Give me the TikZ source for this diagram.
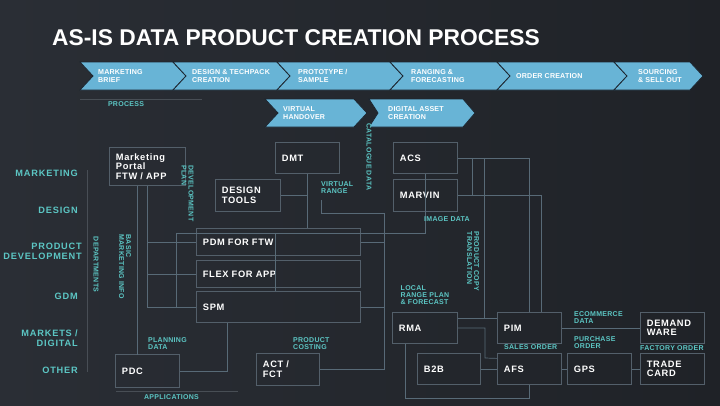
\documentclass[tikz,border=0pt]{standalone}
\usepackage{fontspec}
\setmainfont{Liberation Sans}
\usetikzlibrary{positioning,calc}
\definecolor{bgL}{HTML}{2A2E35}
\definecolor{bgM}{HTML}{31353C}
\definecolor{bgR}{HTML}{1F2227}
\definecolor{chevB}{HTML}{68B4D6}
\definecolor{chevD}{HTML}{1D2630}
\definecolor{mteal}{HTML}{5CC6C4}
\definecolor{boxL}{HTML}{535F6A}
\definecolor{wireL}{HTML}{586A77}
\definecolor{ruleL}{HTML}{484E55}
\tikzset{
  every node/.style={inner sep=0pt},
  sys/.style={draw=boxL, line width=0.8pt, anchor=north west, align=left, text=white,
              inner xsep=6.5pt, font={\fontsize{9.3}{9.6}\selectfont\bfseries\addfontfeatures{LetterSpace=7}}},
  sz/.code 2 args={\pgfmathsetlengthmacro\boxtw{#1-13}%
                   \tikzset{minimum width=#1 pt, minimum height=#2 pt, text width=\boxtw}},
  chev/.style={fill=chevB, draw=chevD, line width=0.8pt},
  ctxt/.style={text=white, anchor=west, align=left,
               font={\fontsize{7.1}{8}\selectfont\bfseries\addfontfeatures{LetterSpace=2.5}}},
  dept/.style={text=mteal, anchor=east, align=right,
               font={\fontsize{9.2}{9.5}\selectfont\bfseries\addfontfeatures{LetterSpace=9}}},
  tag/.style ={text=mteal, align=left,
               font={\fontsize{7}{7}\selectfont\bfseries\addfontfeatures{LetterSpace=4}}},
  wire/.style={draw=wireL, line width=0.7pt},
  rule/.style={draw=ruleL, line width=1pt},
}

\begin{document}
\begin{tikzpicture}[x=1pt, y=-1pt]

% background
\shade[left color=bgL, middle color=bgM, right color=bgR] (0,0) rectangle (720,405);

\node[anchor=base west, text=white, font={\fontsize{22.8}{26}\selectfont\bfseries}] (title)
  at (52,45) {AS-IS DATA PRODUCT CREATION PROCESS};

% ---------------- process chevrons ----------------
\foreach \a/\b in {93/186,186/290,290/403,403/510,510/627,627/703}{
  \filldraw[chev] (\a-13,62) -- (\b-13,62) -- (\b,76) -- (\b-13,90) -- (\a-13,90) -- (\a,76) -- cycle;
}
\filldraw[chev] (265,99) -- (354,99) -- (367,113) -- (354,127) -- (265,127) -- (278,113) -- cycle;
\filldraw[chev] (369,99) -- (463,99) -- (475,113) -- (463,127) -- (369,127) -- (378,113) -- cycle;

\node[ctxt] (brief)  at (98,76)  {MARKETING\\BRIEF};
\node[ctxt] (design) at (192,76) {DESIGN \& TECHPACK\\CREATION};
\node[ctxt] (proto)  at (298,76) {PROTOTYPE /\\SAMPLE};
\node[ctxt] (range)  at (411,76) {RANGING \&\\FORECASTING};
\node[ctxt] (order)  at (516,76) {ORDER CREATION};
\node[ctxt] (sell)   at (638,76) {SOURCING\\\& SELL OUT};
\node[ctxt] (handov) at (283,113) {VIRTUAL\\HANDOVER};
\node[ctxt] (asset)  at (388,113) {DIGITAL ASSET\\CREATION};

\coordinate (procL) at (80,99);
\coordinate (procR) at (202,99);
\draw[rule] (procL) -- (procR);
\node[tag] (process) at (126,104.5) {PROCESS};

% ---------------- departments ----------------
\node[dept] (mkt)  at (78,173) {MARKETING};
\node[dept] (dsg)  at (78,210) {DESIGN};
\node[dept] (pdev) at (82,251.5) {PRODUCT\\DEVELOPMENT};
\node[dept] (gdm)  at (78,296) {GDM};
\node[dept] (mdig) at (78,338) {MARKETS /\\DIGITAL};
\node[dept] (oth)  at (78,370) {OTHER};
\coordinate (dtop) at (87,170);
\coordinate (dbot) at (87,372);
\draw[rule] (dtop) -- (dbot);
\node[tag, rotate=-90] (deps) at (96,264.5) {DEPARTMENTS};

% ---------------- systems ----------------
\node[sys, sz={76}{38}]  (portal) at (109,147) {Marketing\\Portal\\FTW / APP};
\node[sys, sz={64}{31}]  (dmt)    at (275,142) {DMT};
\node[sys, sz={65}{32}]  (dtools) at (215,179) {DESIGN\\TOOLS};
\node[sys, sz={64}{31}]  (acs)    at (393,142) {ACS};
\node[sys, sz={64}{32}]  (marvin) at (393,179) {MARVIN};
\node[sys, sz={164}{27}] (pdm)    at (196,228) {PDM FOR FTW};
\node[sys, sz={164}{27}] (flex)   at (196,260) {FLEX FOR APP};
\node[sys, sz={164}{31}] (spm)    at (196,291) {SPM};
\node[sys, sz={65}{31}]  (rma)    at (392,312) {RMA};
\node[sys, sz={64}{31}]  (pim)    at (497,312) {PIM};
\node[sys, sz={63}{31}]  (b2b)    at (417,353) {B2B};
\node[sys, sz={64}{31}]  (afs)    at (497,353) {AFS};
\node[sys, sz={64}{31}]  (gps)    at (567,353) {GPS};
\node[sys, sz={64}{31}]  (dware)  at (640,312) {DEMAND\\WARE};
\node[sys, sz={64}{31}]  (tcard)  at (640,353) {TRADE\\CARD};
\node[sys, sz={64}{33}]  (pdc)    at (115,354) {PDC};
\node[sys, sz={63}{32}]  (actfct) at (256,353) {ACT /\\FCT};

% ---------------- data flows ----------------
\draw[wire] (portal.south) |- (pdm.west);
\draw[wire] (portal.south) |- (flex.west);
\draw[wire] (portal.south) |- (spm.west);
\draw[wire] ([xshift=-10pt]portal.south) -- ++(0,169);

\coordinate (imgbus) at (176,233);
\draw[wire] (acs.south) |- (imgbus) |- (spm.west);
\draw[wire] (imgbus -| dmt.west) -- (dmt.west |- spm.north);

\draw[wire] (dmt.south) -- (dmt.south |- pdm.north);
\draw[wire] (dtools.east) -- (dtools.east -| dmt.south);

\coordinate (vr) at (321,200);
\coordinate (vrbus) at (384,213);
\draw[wire] (vr) |- (vrbus) |- (actfct.east);
\draw[wire] (vrbus |- pdm.east) -- (pdm.east);
\draw[wire] (vrbus |- spm.east) -- (spm.east);
\draw[wire] ([xshift=31pt]spm.south west) |- (pdc.east);

\draw[wire] (acs.east) -| (pim.north);
\draw[wire] (marvin.east) -| ([xshift=12pt]pim.north);
\draw[wire] ([xshift=15pt]acs.east) -- ([xshift=15pt]marvin.east);
\draw[wire] ([xshift=27pt]acs.east) |- ([yshift=9.5pt]pim.west);
\draw[wire] ([yshift=9.5pt]rma.east) -- ([yshift=9.5pt]pim.west);

\draw[wire] (rma.east) -| (485,358) -- ([yshift=10.5pt]afs.west);
\draw[wire] ([xshift=-19.5pt]rma.south) -- ++(0,55) -| (afs.south);
\draw[wire] (b2b.east) -- (afs.west);
\draw[wire] (afs.east) -- (gps.west);
\draw[wire] (gps.east) -- (tcard.west);
\draw[wire] (pim.east) -- (dware.west);

% ---------------- flow labels ----------------
\node[tag, rotate=-90] (bmi)     at (125,266.7) {BASIC\\MARKETING INFO};
\node[tag, rotate=-90] (devplan) at (187.5,193.3) {DEVELOPMENT\\PLAN};
\node[tag, rotate=-90] (catdata) at (369,156.7) {CATALOGUE DATA};
\node[tag, rotate=-90] (pcopy)   at (473,261.3) {PRODUCT COPY\\TRANSLATION};
\node[tag, anchor=west] (vrange) at (321,187.5) {VIRTUAL\\RANGE};
\node[tag] (imgdata) at (447,219.5) {IMAGE DATA};
\node[tag, anchor=west] (lrp)    at (400.5,295) {LOCAL\\RANGE PLAN\\\& FORECAST};
\node[tag, anchor=west] (sales)  at (504,347.5) {SALES ORDER};
\node[tag, anchor=west] (ecom)   at (574,318) {ECOMMERCE\\DATA};
\node[tag, anchor=west] (purch)  at (574,343) {PURCHASE\\ORDER};
\node[tag, anchor=west] (fact)   at (640,348.5) {FACTORY ORDER};
\node[tag, anchor=west] (plan)   at (148,343.5) {PLANNING\\DATA};
\node[tag, anchor=west] (cost)   at (293,343.5) {PRODUCT\\COSTING};

\coordinate (appL) at (116,391);
\coordinate (appR) at (238,391);
\draw[rule] (appL) -- (appR);
\node[tag] (apps) at (171.5,397) {APPLICATIONS};

\end{tikzpicture}
\end{document}
